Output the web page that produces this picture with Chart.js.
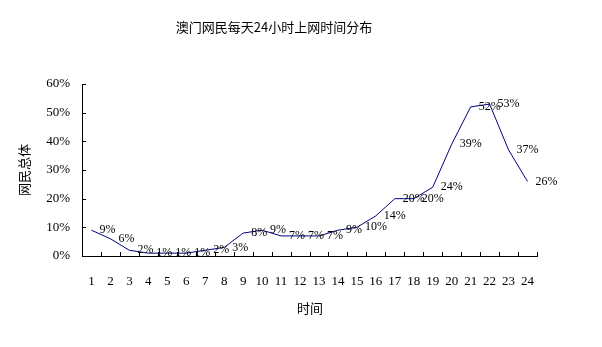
<!DOCTYPE html>
<html>
<head>
<meta charset="utf-8">
<script src="https://cdn.jsdelivr.net/npm/chart.js@4"></script>
<style>
  html, body { margin: 0; padding: 0; background: #fff; }
  #wrap { width: 602px; height: 347px; }
</style>
</head>
<body>
<div id="wrap"><canvas id="chart" width="602" height="347"></canvas></div>
<script>
// Hours of the day
const hours = ["1","2","3","4","5","6","7","8","9","10","11","12","13","14","15","16","17","18","19","20","21","22","23","24"];
// Share of users online (%)
const share = [9, 6, 2, 1, 1, 1, 2, 3, 8, 9, 7, 7, 7, 9, 10, 14, 20, 20, 24, 39, 52, 53, 37, 26];
const yTicks = [0, 10, 20, 30, 40, 50, 60];

const chartTitle = "澳门网民每天24小时上网时间分布";
const yTitle = "网民总体";
const xTitle = "时间";

const serif = '"Liberation Serif", "Times New Roman", "Noto Sans CJK SC", serif';
const cjk = '"Noto Sans CJK SC", "Liberation Serif", sans-serif';

// Draws titles, inside tick marks and point labels
const decorations = {
    id: "decorations",
    afterDatasetsDraw(chart) {
        const c = chart.ctx;
        const xs = chart.scales.x;
        const ys = chart.scales.y;
        c.save();

        // tick marks pointing into the plot
        c.strokeStyle = "#000";
        c.lineWidth = 1;
        c.beginPath();
        const step = (xs.right - xs.left) / hours.length;
        for (let i = 1; i <= hours.length; i++) {
            const px = Math.round(xs.left + i * step) + 0.5;
            c.moveTo(px, ys.bottom);
            c.lineTo(px, ys.bottom - 4);
        }
        yTicks.forEach(v => {
            const py = Math.round(ys.getPixelForValue(v)) + 0.5;
            c.moveTo(xs.left, py);
            c.lineTo(xs.left + 4, py);
        });
        c.stroke();

        // point labels
        const meta = chart.getDatasetMeta(0);
        c.fillStyle = "#000";
        c.font = "12px " + serif;
        c.textAlign = "left";
        c.textBaseline = "middle";
        meta.data.forEach((pt, i) => {
            c.fillText(share[i] + "%", pt.x + 8, pt.y);
        });

        // chart title
        c.font = "13px " + cjk;
        c.textAlign = "center";
        c.fillText(chartTitle, 274, 27);

        // axis titles
        c.font = "13px " + cjk;
        c.fillText(xTitle, 310, 308);
        c.translate(24, 170);
        c.rotate(-Math.PI / 2);
        c.fillText(yTitle, 0, 0);
        c.restore();
    }
};

const ctx = document.getElementById("chart").getContext("2d");
const chart = new Chart(ctx, {
    type: "line",
    data: {
        labels: hours,
        datasets: [{
            data: share,
            borderColor: "#000080",
            borderWidth: 1,
            tension: 0,
            pointRadius: 0,
            fill: false
        }]
    },
    options: {
        responsive: false,
        animation: false,
        layout: { padding: { left: 0, right: 65, top: 84, bottom: 0 } },
        plugins: {
            legend: { display: false },
            tooltip: { enabled: false },
            title: { display: false }
        },
        scales: {
            x: {
                offset: true,
                afterFit: s => { s.height = 91; },
                grid: { display: true, offset: true, drawOnChartArea: false, drawTicks: false },
                border: { display: true, color: "#000", width: 1 },
                ticks: { color: "#000", font: { family: serif, size: 13 }, padding: 18, maxRotation: 0, autoSkip: false }
            },
            y: {
                min: 0,
                max: 60,
                afterFit: s => { s.width = 82; },
                afterBuildTicks: s => { s.ticks = yTicks.map(v => ({ value: v })); },
                grid: { display: false, drawTicks: false },
                border: { display: true, color: "#000", width: 1 },
                ticks: { color: "#000", font: { family: serif, size: 13 }, padding: 12, callback: v => v + "%" }
            }
        }
    },
    plugins: [decorations]
});
</script>
</body>
</html>
